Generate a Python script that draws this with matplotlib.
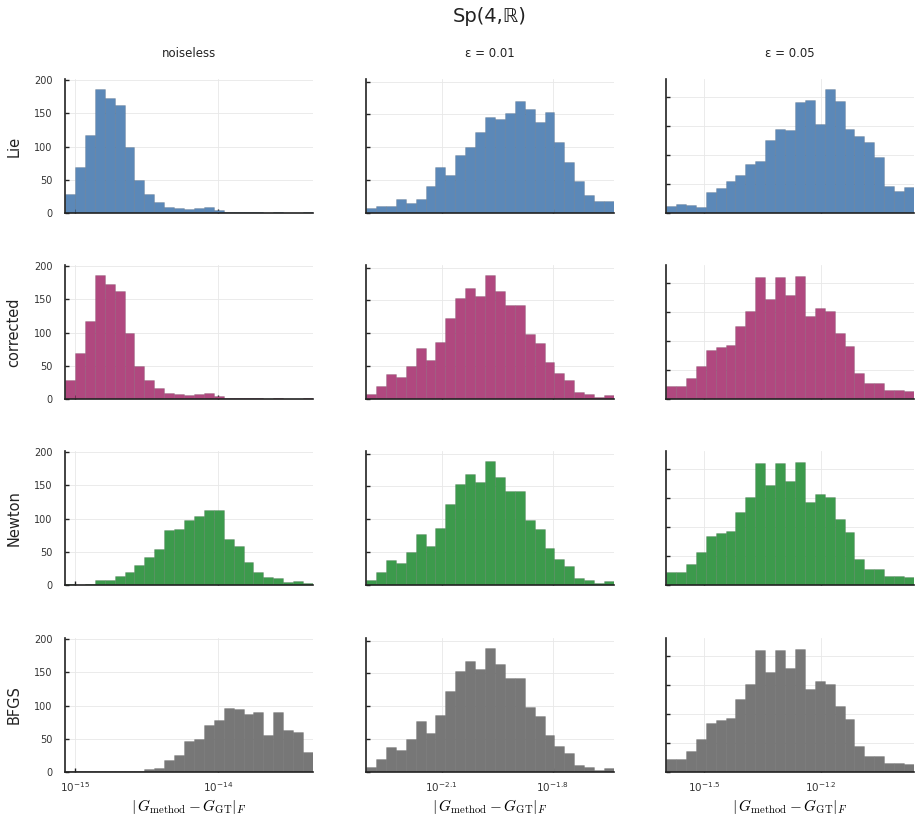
import numpy as np
import matplotlib
matplotlib.use('Agg')
import matplotlib.pyplot as plt
from matplotlib.ticker import FixedLocator, NullFormatter

matplotlib.rcParams['font.family'] = 'DejaVu Sans'
matplotlib.rcParams['mathtext.fontset'] = 'dejavusans'

# ---------------- data (counts) ----------------
methods = ['Lie', 'corrected', 'Newton', 'BFGS']
columns = ['noiseless', 'ε = 0.01', 'ε = 0.05']

# log10 range of the bins for each column (25 bins each)
log_ranges = [(-15.07, -13.336), (-2.304, -1.634), (-1.597, -0.961)]
n_bins = 25

# noiseless
lie_0 = [28, 69, 118, 187, 173, 163, 99, 49, 28, 17, 9, 7, 6, 8, 9, 4, 2, 2, 1, 1, 0, 1, 0, 0, 1]
corrected_0 = [28, 69, 118, 187, 173, 163, 99, 49, 28, 17, 9, 7, 6, 8, 9, 4, 2, 2, 1, 1, 0, 1, 0, 0, 1]
newton_0 = [1, 0, 1, 8, 7, 14, 19, 30, 42, 54, 83, 85, 98, 104, 113, 113, 70, 59, 34, 20, 12, 11, 5, 6, 3]
bfgs_0 = [1, 1, 1, 1, 1, 1, 1, 2, 4, 6, 18, 25, 46, 49, 71, 79, 96, 95, 87, 91, 56, 90, 63, 60, 30]

# eps = 0.01
lie_1 = [8, 10, 10, 21, 15, 21, 41, 70, 58, 89, 100, 124, 146, 143, 152, 170, 158, 138, 154, 108, 77, 49, 28, 19, 19]
other_1 = [8, 20, 38, 33, 50, 77, 60, 87, 123, 154, 169, 157, 189, 165, 143, 143, 99, 85, 56, 39, 29, 10, 8, 3, 6]

# eps = 0.05
lie_2 = [12, 15, 13, 10, 37, 43, 55, 65, 84, 90, 125, 145, 143, 191, 195, 153, 214, 193, 145, 132, 123, 97, 47, 38, 45]
other_2 = [23, 23, 36, 57, 85, 90, 93, 125, 152, 210, 172, 210, 180, 212, 143, 157, 152, 113, 92, 45, 27, 27, 15, 15, 13]

counts = [
    [lie_0, lie_1, lie_2],
    [corrected_0, other_1, other_2],
    [newton_0, other_1, other_2],
    [bfgs_0, other_1, other_2],
]

xticks = [[1e-15, 1e-14], [10 ** -2.1, 10 ** -1.8], [10 ** -1.5, 10 ** -1.2]]
xticklabels = [[r'$10^{-15}$', r'$10^{-14}$'], [r'$10^{-2.1}$', r'$10^{-1.8}$'], [r'$10^{-1.5}$', r'$10^{-1.2}$']]
yticks = [0, 50, 100, 150, 200]
ytops = [202, 204, 231]

colors = ['#5b88b8', '#b0487f', '#3c9a4c', '#777777']

# ---------------- layout ----------------
fig = plt.figure(figsize=(9.21, 8.24), dpi=100)
W, H = 921, 824
col_left = [65, 366, 666]
col_width = 248
row_bottom = [213, 399, 585, 772]
ax_height = 134

for r in range(4):
    for c in range(3):
        ax = fig.add_axes([col_left[c] / W, 1 - row_bottom[r] / H, col_width / W, ax_height / H])
        lo, hi = log_ranges[c]
        edges = np.logspace(lo, hi, n_bins + 1)
        vals = counts[r][c]
        ax.bar(edges[:-1], vals, width=np.diff(edges), align='edge',
               color=colors[r], edgecolor='#00000022', linewidth=0.6, zorder=2)
        ax.set_xscale('log')
        ax.set_xlim(edges[0], edges[-1])
        ax.set_ylim(0, ytops[c])

        ax.xaxis.set_major_locator(FixedLocator(xticks[c]))
        ax.xaxis.set_minor_locator(FixedLocator([]))
        ax.yaxis.set_major_locator(FixedLocator(yticks))
        ax.tick_params(axis='both', direction='in', length=3, width=1, color='#222222',
                       labelcolor='#333333')
        ax.tick_params(axis='y', labelsize=7, pad=9)
        ax.tick_params(axis='x', labelsize=7.5, pad=6)
        if r == 3:
            ax.set_xticklabels(xticklabels[c])
            ax.set_xlabel(r'$|\,G_{\mathrm{method}} - G_{\mathrm{GT}}|_F$', fontsize=11,
                          labelpad=2, math_fontfamily='cm')
        else:
            ax.xaxis.set_major_formatter(NullFormatter())
        if c != 0:
            ax.yaxis.set_major_formatter(NullFormatter())

        ax.grid(True, color='#e8e8e8', linewidth=0.6, zorder=0)
        ax.set_axisbelow(True)
        for s in ['top', 'right']:
            ax.spines[s].set_visible(False)
        for s in ['left', 'bottom']:
            ax.spines[s].set_linewidth(1.2)
            ax.spines[s].set_color('#222222')
            ax.spines[s].set_zorder(3)

        if r == 0:
            ax.set_title(columns[c], fontsize=8.5, color='#222222', pad=16)

    # row label
    yc = row_bottom[r] - ax_height / 2
    fig.text(14 / W, 1 - yc / H, methods[r], rotation=90, ha='center', va='center',
             fontsize=10.5, color='#222222')

fig.text(490 / W, 1 - 17 / H, 'Sp(4,ℝ)', ha='center', va='center', fontsize=14, color='#222222')

plt.savefig('out.png', dpi=100)
